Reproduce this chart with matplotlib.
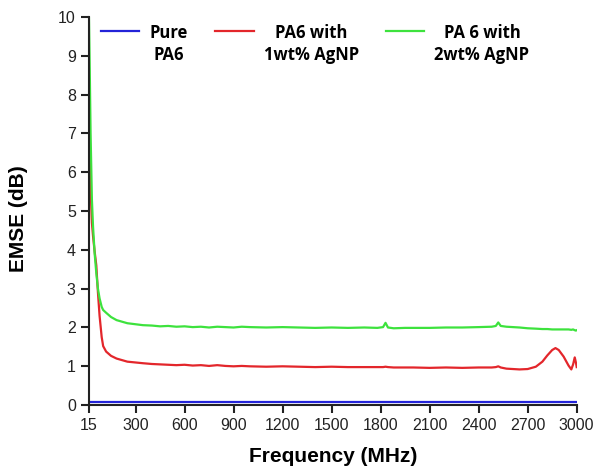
import numpy as np
import matplotlib.pyplot as plt
from matplotlib.legend_handler import HandlerLine2D

# data
freq = [15, 20, 25, 33, 40, 50, 60, 70, 80, 93, 102, 120, 150, 184, 250, 345,
        400, 450, 500, 550, 600, 650, 700, 750, 800, 850, 900, 950, 1000,
        1100, 1200, 1300, 1400, 1500, 1600, 1700, 1780, 1815, 1830, 1845,
        1880, 1950, 2000, 2100, 2200, 2300, 2400, 2480, 2505, 2520, 2535,
        2570, 2650, 2700, 2750, 2790, 2820, 2850, 2870, 2890, 2920, 2950,
        2967, 2978, 2988, 2995, 3000]

pa6_2wt = [10.0, 8.6, 7.0, 5.3, 4.6, 3.9, 3.4, 3.0, 2.75, 2.53, 2.45, 2.38,
           2.27, 2.19, 2.11, 2.06, 2.05, 2.03, 2.04, 2.02, 2.03, 2.01, 2.02,
           2.00, 2.02, 2.01, 2.00, 2.02, 2.01, 2.00, 2.01, 2.00, 1.99, 2.00,
           1.99, 2.00, 1.99, 2.01, 2.12, 2.00, 1.98, 1.99, 1.99, 1.99, 2.00,
           2.00, 2.01, 2.02, 2.04, 2.13, 2.04, 2.02, 2.00, 1.98, 1.97, 1.96,
           1.96, 1.95, 1.95, 1.95, 1.95, 1.95, 1.94, 1.95, 1.93, 1.92, 1.93]

pa6_1wt = [8.1, 6.6, 5.6, 4.7, 4.35, 3.95, 3.6, 2.9, 2.3, 1.75, 1.52, 1.38,
           1.27, 1.2, 1.12, 1.08, 1.06, 1.05, 1.04, 1.03, 1.04, 1.02, 1.03,
           1.01, 1.03, 1.01, 1.00, 1.01, 1.00, 0.99, 1.00, 0.99, 0.98, 0.99,
           0.98, 0.98, 0.98, 0.98, 0.99, 0.98, 0.97, 0.97, 0.97, 0.96, 0.97,
           0.96, 0.97, 0.97, 0.98, 1.00, 0.97, 0.94, 0.92, 0.93, 0.99, 1.12,
           1.28, 1.42, 1.47, 1.42, 1.25, 1.02, 0.92, 1.05, 1.23, 1.10, 0.98]

pure_freq = [15, 3000]
pure_pa6 = [0.08, 0.08]

xticks = [15, 300, 600, 900, 1200, 1500, 1800, 2100, 2400, 2700, 3000]
yticks = list(range(0, 11))


class TopLineHandler(HandlerLine2D):
    """Legend line drawn level with the first line of a two-line label."""
    def create_artists(self, legend, orig_handle, xdescent, ydescent,
                       width, height, fontsize, trans):
        artists = super().create_artists(legend, orig_handle, xdescent,
                                         ydescent, width, height, fontsize,
                                         trans)
        for a in artists:
            a.set_ydata(np.asarray(a.get_ydata()) + 0.85 * fontsize)
        return artists


plt.rcParams['font.family'] = ['Liberation Sans', 'DejaVu Sans']

fig = plt.figure(figsize=(5.97, 4.70), dpi=100)
ax = fig.add_axes([0.149, 0.138, 0.817, 0.826])

ax.plot(pure_freq, pure_pa6, color='#2323d8', lw=1.6, label='Pure\nPA6')
ax.plot(freq, pa6_1wt, color='#e3262b', lw=1.6, label='PA6 with\n1wt% AgNP')
ax.plot(freq, pa6_2wt, color='#3de23d', lw=1.6, label='PA 6 with\n2wt% AgNP')

ax.set_xlim(15, 3000)
ax.set_ylim(0, 10)
ax.set_xticks(xticks)
ax.set_yticks(yticks)

for s in ['top', 'right']:
    ax.spines[s].set_visible(False)
for s in ['left', 'bottom']:
    ax.spines[s].set_linewidth(1.5)
    ax.spines[s].set_color('#222222')
ax.tick_params(direction='out', length=6, width=1.5, color='#222222',
               labelsize=11.5, labelcolor='#222222')

ax.set_xlabel('Frequency (MHz)', fontsize=15, fontweight='bold', labelpad=10)
ax.set_ylabel('EMSE (dB)', fontsize=15, fontweight='bold')
ax.yaxis.set_label_coords(-0.125, 0.48)

leg = ax.legend(loc='upper left', bbox_to_anchor=(0.011, 1.0), ncol=3,
                frameon=False, handlelength=2.3, columnspacing=1.65,
                handletextpad=0.6, borderaxespad=0.0,
                handler_map={plt.Line2D: TopLineHandler()},
                prop={'family': ['Open Sans', 'DejaVu Sans'],
                      'weight': 'bold', 'size': 12})
for t in leg.get_texts():
    t.set_multialignment('center')
    t.set_linespacing(1.35)

fig.savefig('out.png', dpi=100)
